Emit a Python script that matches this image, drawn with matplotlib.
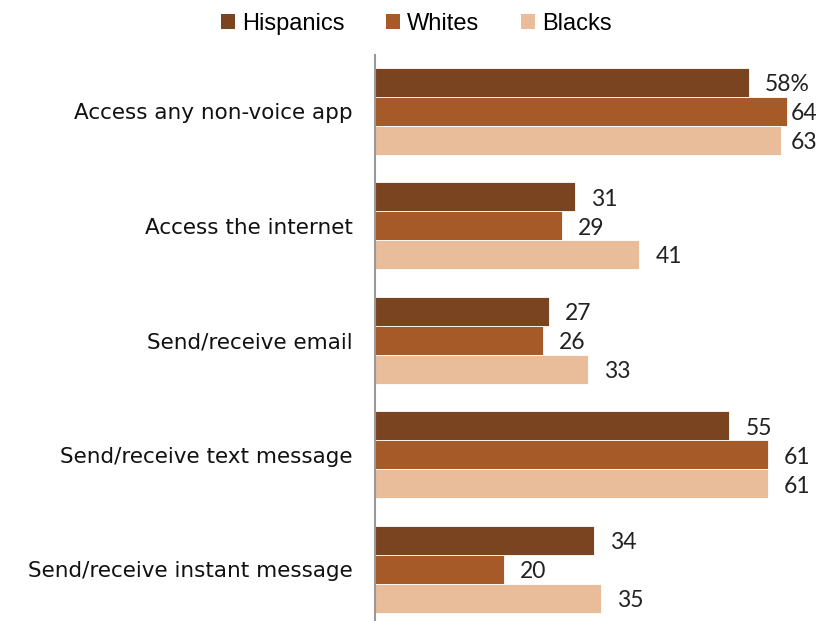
import numpy as np
import matplotlib.pyplot as plt
from matplotlib.patches import Patch

# DATOS
categorias = ["Access any non-voice app", "Access the internet", "Send/receive email",
              "Send/receive text message", "Send/receive instant message"]
series = ["Hispanics", "Whites", "Blacks"]
hispanics = [58, 31, 27, 55, 34]
whites = [64, 29, 26, 61, 20]
blacks = [63, 41, 33, 61, 35]
colores = ["#7B4420", "#A55A27", "#E9BC9A"]

valores = [hispanics, whites, blacks]

fig = plt.figure(figsize=(8.26, 6.21), dpi=100)
ax = fig.add_axes([375 / 826, 0, 451 / 826, 1 - 55 / 621])

y = np.arange(len(categorias))
h = 0.253
for j, (vals, col) in enumerate(zip(valores, colores)):
    pos = y + (j - 1) * h
    ax.barh(pos, vals, height=h, color=col, edgecolor="white", linewidth=0.6)
    for i, (p, v) in enumerate(zip(pos, vals)):
        txt = f"{v}%" if (i == 0 and j == 0) else f"{v}"
        # las etiquetas cerca del borde se pegan a la barra
        ax.text(min(v + 2.5, 64.5), p + 0.02, txt, va="center", ha="left", fontsize=16.5,
                family="Lato", color="#222222")

ax.set_xlim(0, 70)
ax.set_ylim(4.45, -0.49)
ax.set_yticks(y)
ax.set_yticklabels(categorias, fontsize=15.5, family="DejaVu Sans", color="#111111")
ax.tick_params(axis="y", length=0, pad=16)
ax.set_xticks([])
for s in ["top", "right", "bottom"]:
    ax.spines[s].set_visible(False)
ax.spines["left"].set_color("#999999")
ax.spines["left"].set_linewidth(1.5)

handles = [Patch(facecolor=c, label=s) for s, c in zip(series, colores)]
fig.legend(handles=handles, loc="center", bbox_to_anchor=(416 / 826, 1 - 24 / 621),
           ncol=3, frameon=False, handlelength=0.6, handleheight=0.6,
           handletextpad=0.3, columnspacing=1.75, prop={"family": "Liberation Sans", "size": 17})

plt.savefig("out.png", dpi=100)
